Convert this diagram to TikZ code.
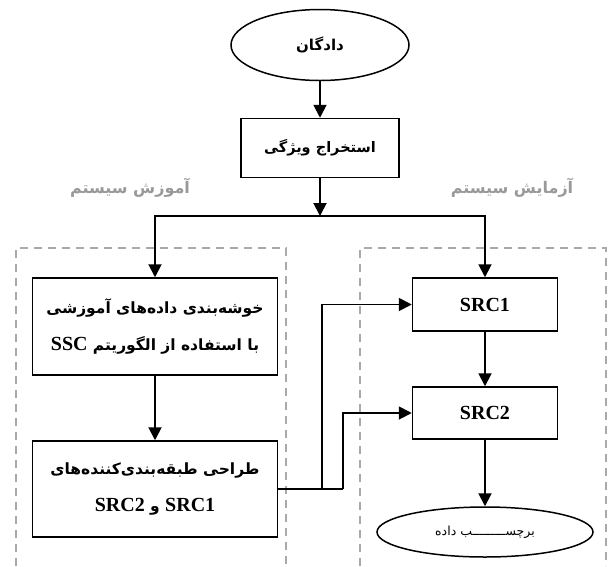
\documentclass[tikz,border=0pt]{standalone}
\usepackage{fontspec}
\setmainfont{Liberation Serif}
\newfontfamily\fa[Script=Arabic]{DejaVu Sans}
\TeXXeTstate=1
\usetikzlibrary{shapes.geometric,arrows.meta}
\definecolor{dashgray}{HTML}{AAAAAA}
\definecolor{labgray}{HTML}{999999}
\tikzset{
  line/.style={line width=1.9pt},
  arr/.style={line width=1.9pt,-{Triangle[length=13pt,width=13pt]}},
  box/.style={draw,line width=1.5pt,rectangle,inner sep=0pt,align=center},
  oval/.style={draw,line width=1.5pt,ellipse,inner sep=0pt,align=center},
  region/.style={draw=dashgray,line width=2pt,dash pattern=on 8pt off 6pt},
  glab/.style={text=labgray,font=\fa\bfseries\fontsize{16}{18}\selectfont},
  latin/.style={font=\rmfamily\bfseries\fontsize{20}{22}\selectfont},
}
\newcommand{\lt}[1]{\beginL{\rmfamily\bfseries\fontsize{20}{20}\selectfont #1}\endL}
\begin{document}
\begin{tikzpicture}[x=1pt,y=-1pt]
\useasboundingbox (0,0) rectangle (608,566);
% regions
\draw[region] (16,566) -- (16,248) -- (286,248) -- (286,566);
\draw[region] (360,566) -- (360,248) -- (606,248) -- (606,566);
\node[glab] (lt) at (130,188) {\beginR آموزش سیستم\endR};
\node[glab] (rt) at (512,188) {\beginR آزمایش سیستم\endR};
% nodes
\node[oval,minimum width=178pt,minimum height=71pt,font=\fa\bfseries\fontsize{15}{17}\selectfont] (data) at (320,45) {\beginR دادگان\endR};
\node[box,minimum width=158pt,minimum height=59pt,font=\fa\bfseries\fontsize{14.5}{16}\selectfont] (feat) at (320,148) {\beginR استخراج ویژگی\endR};
\coordinate (j) at (320,216);
\node[box,minimum width=245pt,minimum height=97pt,font=\fa\bfseries\fontsize{15.5}{37}\selectfont] (cl) at (155,326.5)
  {\beginR خوشه^^^^200cبندی داده^^^^200cهای آموزشی\endR\\ \beginR با استفاده از الگوریتم \lt{SSC}\endR};
\node[box,minimum width=245pt,minimum height=96pt,font=\fa\bfseries\fontsize{15.5}{37}\selectfont] (des) at (155,489)
  {\beginR طراحی طبقه^^^^200cبندی^^^^200cکننده^^^^200cهای\endR\\ \beginR\lt{SRC1}{} و \lt{SRC2}\endR};
\node[box,latin,minimum width=145pt,minimum height=53pt] (src1) at (485,304.5) {SRC1};
\node[box,latin,minimum width=145pt,minimum height=52pt] (src2) at (485,413) {SRC2};
\node[oval,minimum width=216pt,minimum height=50pt,font=\fa\fontsize{12.5}{14}\selectfont] (lab) at (485,532) {\beginR برچســـــــــب داده\endR};
% connectors
\draw[arr] (data) -- (feat);
\draw[arr] (feat) -- (j);
\draw[arr] (j) -| (cl.north);
\draw[arr] (j) -| (src1.north);
\draw[arr] (cl) -- (des);
\draw[arr] (src1) -- (src2);
\draw[arr] (src2) -- (lab);
\coordinate (k1) at (322,489);
\coordinate (k2) at (343,489);
\draw[line] (des.east) -- (k2);
\draw[arr] (k1) |- (src1.west);
\draw[arr] (k2) |- (src2.west);
\end{tikzpicture}
\end{document}
